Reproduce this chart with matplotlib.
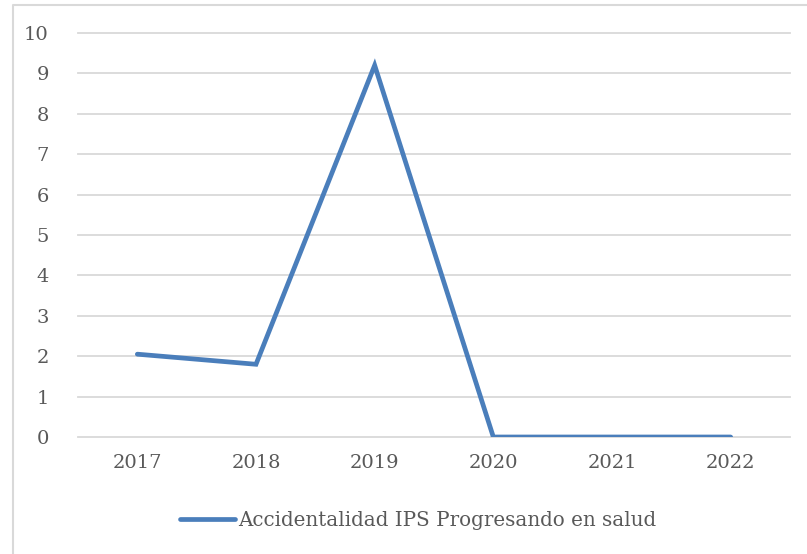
import matplotlib
matplotlib.use("Agg")
import matplotlib.pyplot as plt
from matplotlib.lines import Line2D

years = ["2017", "2018", "2019", "2020", "2021", "2022"]
accidentalidad = [2.05, 1.8, 9.2, 0, 0, 0]
series_name = "Accidentalidad IPS Progresando en salud"

plt.rcParams['font.family'] = ['DejaVu Serif']
text_color = "#595959"
line_color = "#4a7ebb"

fig = plt.figure(figsize=(8.07, 5.54), dpi=100)
ax = fig.add_axes([78 / 807, 117 / 554, 712 / 807, 404 / 554])

x = range(len(years))
ax.plot(x, accidentalidad, color=line_color, linewidth=3.4,
        solid_capstyle="round", solid_joinstyle="miter", label=series_name, zorder=3)

ax.set_xlim(-0.5, len(years) - 0.5)
ax.set_ylim(0, 10)
ax.set_yticks(range(0, 11))
ax.set_xticks(list(x))
ax.set_xticklabels(years)
ax.grid(axis="y", color="#d9d9d9", linewidth=1.3)
for gl in ax.get_ygridlines():
    gl.set_clip_on(False)
ax.set_axisbelow(True)
for s in ax.spines.values():
    s.set_visible(False)
ax.tick_params(length=0, labelsize=14, labelcolor=text_color)
ax.tick_params(axis="y", pad=21)
ax.tick_params(axis="x", pad=12)

leg = fig.legend(loc="center", bbox_to_anchor=(418 / 807, 1 - 520 / 554), frameon=False,
                 fontsize=14.3, handlelength=2.8, handletextpad=0.15)
for t in leg.get_texts():
    t.set_color(text_color)

# outer chart frame (left and top edges visible)
fig.add_artist(Line2D([12.5 / 807, 12.5 / 807, 1], [0, 1 - 4.5 / 554, 1 - 4.5 / 554],
                      transform=fig.transFigure, color="#d9d9d9", linewidth=1.5))

fig.savefig("out.png", dpi=100)
